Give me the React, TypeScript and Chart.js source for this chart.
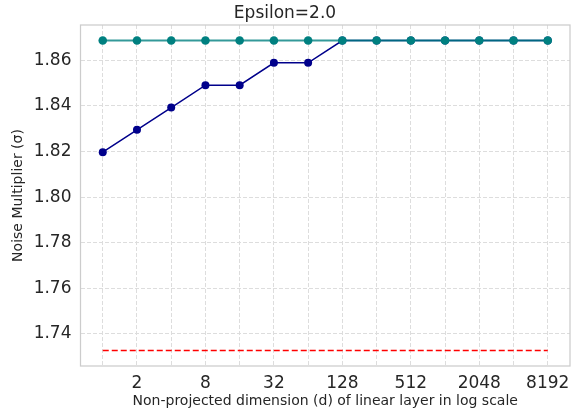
import React, { useEffect, useRef } from 'react';
import { Chart, registerables } from 'chart.js';
Chart.register(...registerables);

const titleText = 'Epsilon=2.0';
const xTitle = 'Non-projected dimension (d) of linear layer in log scale';
const yTitle = 'Noise Multiplier (σ)';

const dims = [1, 2, 4, 8, 16, 32, 64, 128, 256, 512, 1024, 2048, 4096, 8192];
const xTickLabels = [2, 8, 32, 128, 512, 2048, 8192];
const yTickValues = [1.74, 1.76, 1.78, 1.8, 1.82, 1.84, 1.86];

const projectedValues = [1.8197, 1.8295, 1.8393, 1.8491, 1.8491, 1.8589, 1.8589, 1.8687, 1.8687, 1.8687, 1.8687, 1.8687, 1.8687, 1.8687];
const fullValues = [1.8687, 1.8687, 1.8687, 1.8687, 1.8687, 1.8687, 1.8687, 1.8687, 1.8687, 1.8687, 1.8687, 1.8687, 1.8687, 1.8687];
const baselineValues = [1.7327, 1.7327, 1.7327, 1.7327, 1.7327, 1.7327, 1.7327, 1.7327, 1.7327, 1.7327, 1.7327, 1.7327, 1.7327, 1.7327];

const xMin = 0.6373;
const xMax = 12855;
const yMin = 1.7259;
const yMax = 1.8755;

const FONT = "'DejaVu Sans', sans-serif";
const TEXT = '#262626';

const frame = {
  id: 'frame',
  beforeDatasetsDraw(chart: any) {
    const { ctx, chartArea } = chart;
    ctx.save();
    ctx.strokeStyle = '#cccccc';
    ctx.lineWidth = 1.25;
    ctx.strokeRect(chartArea.left, chartArea.top, chartArea.right - chartArea.left, chartArea.bottom - chartArea.top);
    ctx.restore();
  },
};

export default function App() {
  const ref = useRef<HTMLCanvasElement>(null);
  useEffect(() => {
    if (!ref.current) return;
    const toPts = (vals: number[]) => dims.map((d, i) => ({ x: d, y: vals[i] }));
    const chart = new Chart(ref.current, {
      type: 'line',
      data: {
        datasets: [
          {
            data: toPts(fullValues),
            borderColor: 'rgba(0,128,128,0.8)',
            backgroundColor: '#008080',
            pointBackgroundColor: '#008080',
            pointBorderColor: '#008080',
            borderWidth: 2,
            pointRadius: 4.3,
            pointBorderWidth: 0,
            order: 0,
          },
          {
            data: toPts(projectedValues),
            borderColor: '#00008b',
            backgroundColor: '#00008b',
            pointBackgroundColor: '#00008b',
            pointBorderColor: '#00008b',
            borderWidth: 1.5,
            pointRadius: 4,
            pointBorderWidth: 0,
            order: 1,
          },
          {
            data: toPts(baselineValues),
            borderColor: '#ff0000',
            borderWidth: 1.7,
            borderDash: [6, 3],
            pointRadius: 0,
            order: 2,
          },
        ],
      },
      options: {
        animation: false,
        responsive: false,
        layout: { autoPadding: false, padding: { left: 0, right: 1, top: 0, bottom: 0 } },
        plugins: {
          legend: { display: false },
          tooltip: { enabled: false },
          title: {
            display: true,
            text: titleText,
            color: TEXT,
            font: { family: FONT, size: 17, weight: 'normal' },
            padding: { top: 3, bottom: 1.6 },
          },
        },
        scales: {
          x: {
            type: 'logarithmic',
            bounds: 'data',
            min: xMin,
            max: xMax,
            afterBuildTicks: (scale: any) => {
              scale.ticks = dims.map((v) => ({ value: v }));
            },
            afterFit: (scale: any) => {
              scale.height = 48;
              scale.paddingLeft = 0;
              scale.paddingRight = 0;
            },
            ticks: {
              autoSkip: false,
              maxRotation: 0,
              padding: 7,
              color: TEXT,
              font: { family: FONT, size: 17 },
              callback: (v: any) => (xTickLabels.includes(Number(v)) ? String(v) : ''),
            },
            grid: { color: '#dddddd', lineWidth: 1, drawTicks: false },
            border: { display: false, dash: [4, 2] },
            title: {
              display: true,
              text: xTitle,
              color: TEXT,
              font: { family: FONT, size: 14 },
              padding: { top: 0, bottom: 4 },
            },
          },
          y: {
            type: 'linear',
            min: yMin,
            max: yMax,
            afterBuildTicks: (scale: any) => {
              scale.ticks = yTickValues.map((v) => ({ value: v }));
            },
            afterFit: (scale: any) => {
              scale.width = 80.5;
              scale.paddingTop = 0;
              scale.paddingBottom = 0;
            },
            ticks: {
              padding: 9,
              color: TEXT,
              font: { family: FONT, size: 17 },
              callback: (v: any) => Number(v).toFixed(2),
            },
            grid: { color: '#dddddd', lineWidth: 1, drawTicks: false },
            border: { display: false, dash: [4, 2] },
            title: {
              display: true,
              text: yTitle,
              color: TEXT,
              font: { family: FONT, size: 14 },
              padding: { top: 10, bottom: 0 },
            },
          },
        },
      },
      plugins: [frame],
    } as any);
    return () => chart.destroy();
  }, []);
  return (
    <div style={{ position: 'absolute', left: 0, top: 0, width: 571, height: 414, background: '#fff' }}>
      <canvas ref={ref} width={571} height={414} style={{ display: 'block' }} />
    </div>
  );
}
